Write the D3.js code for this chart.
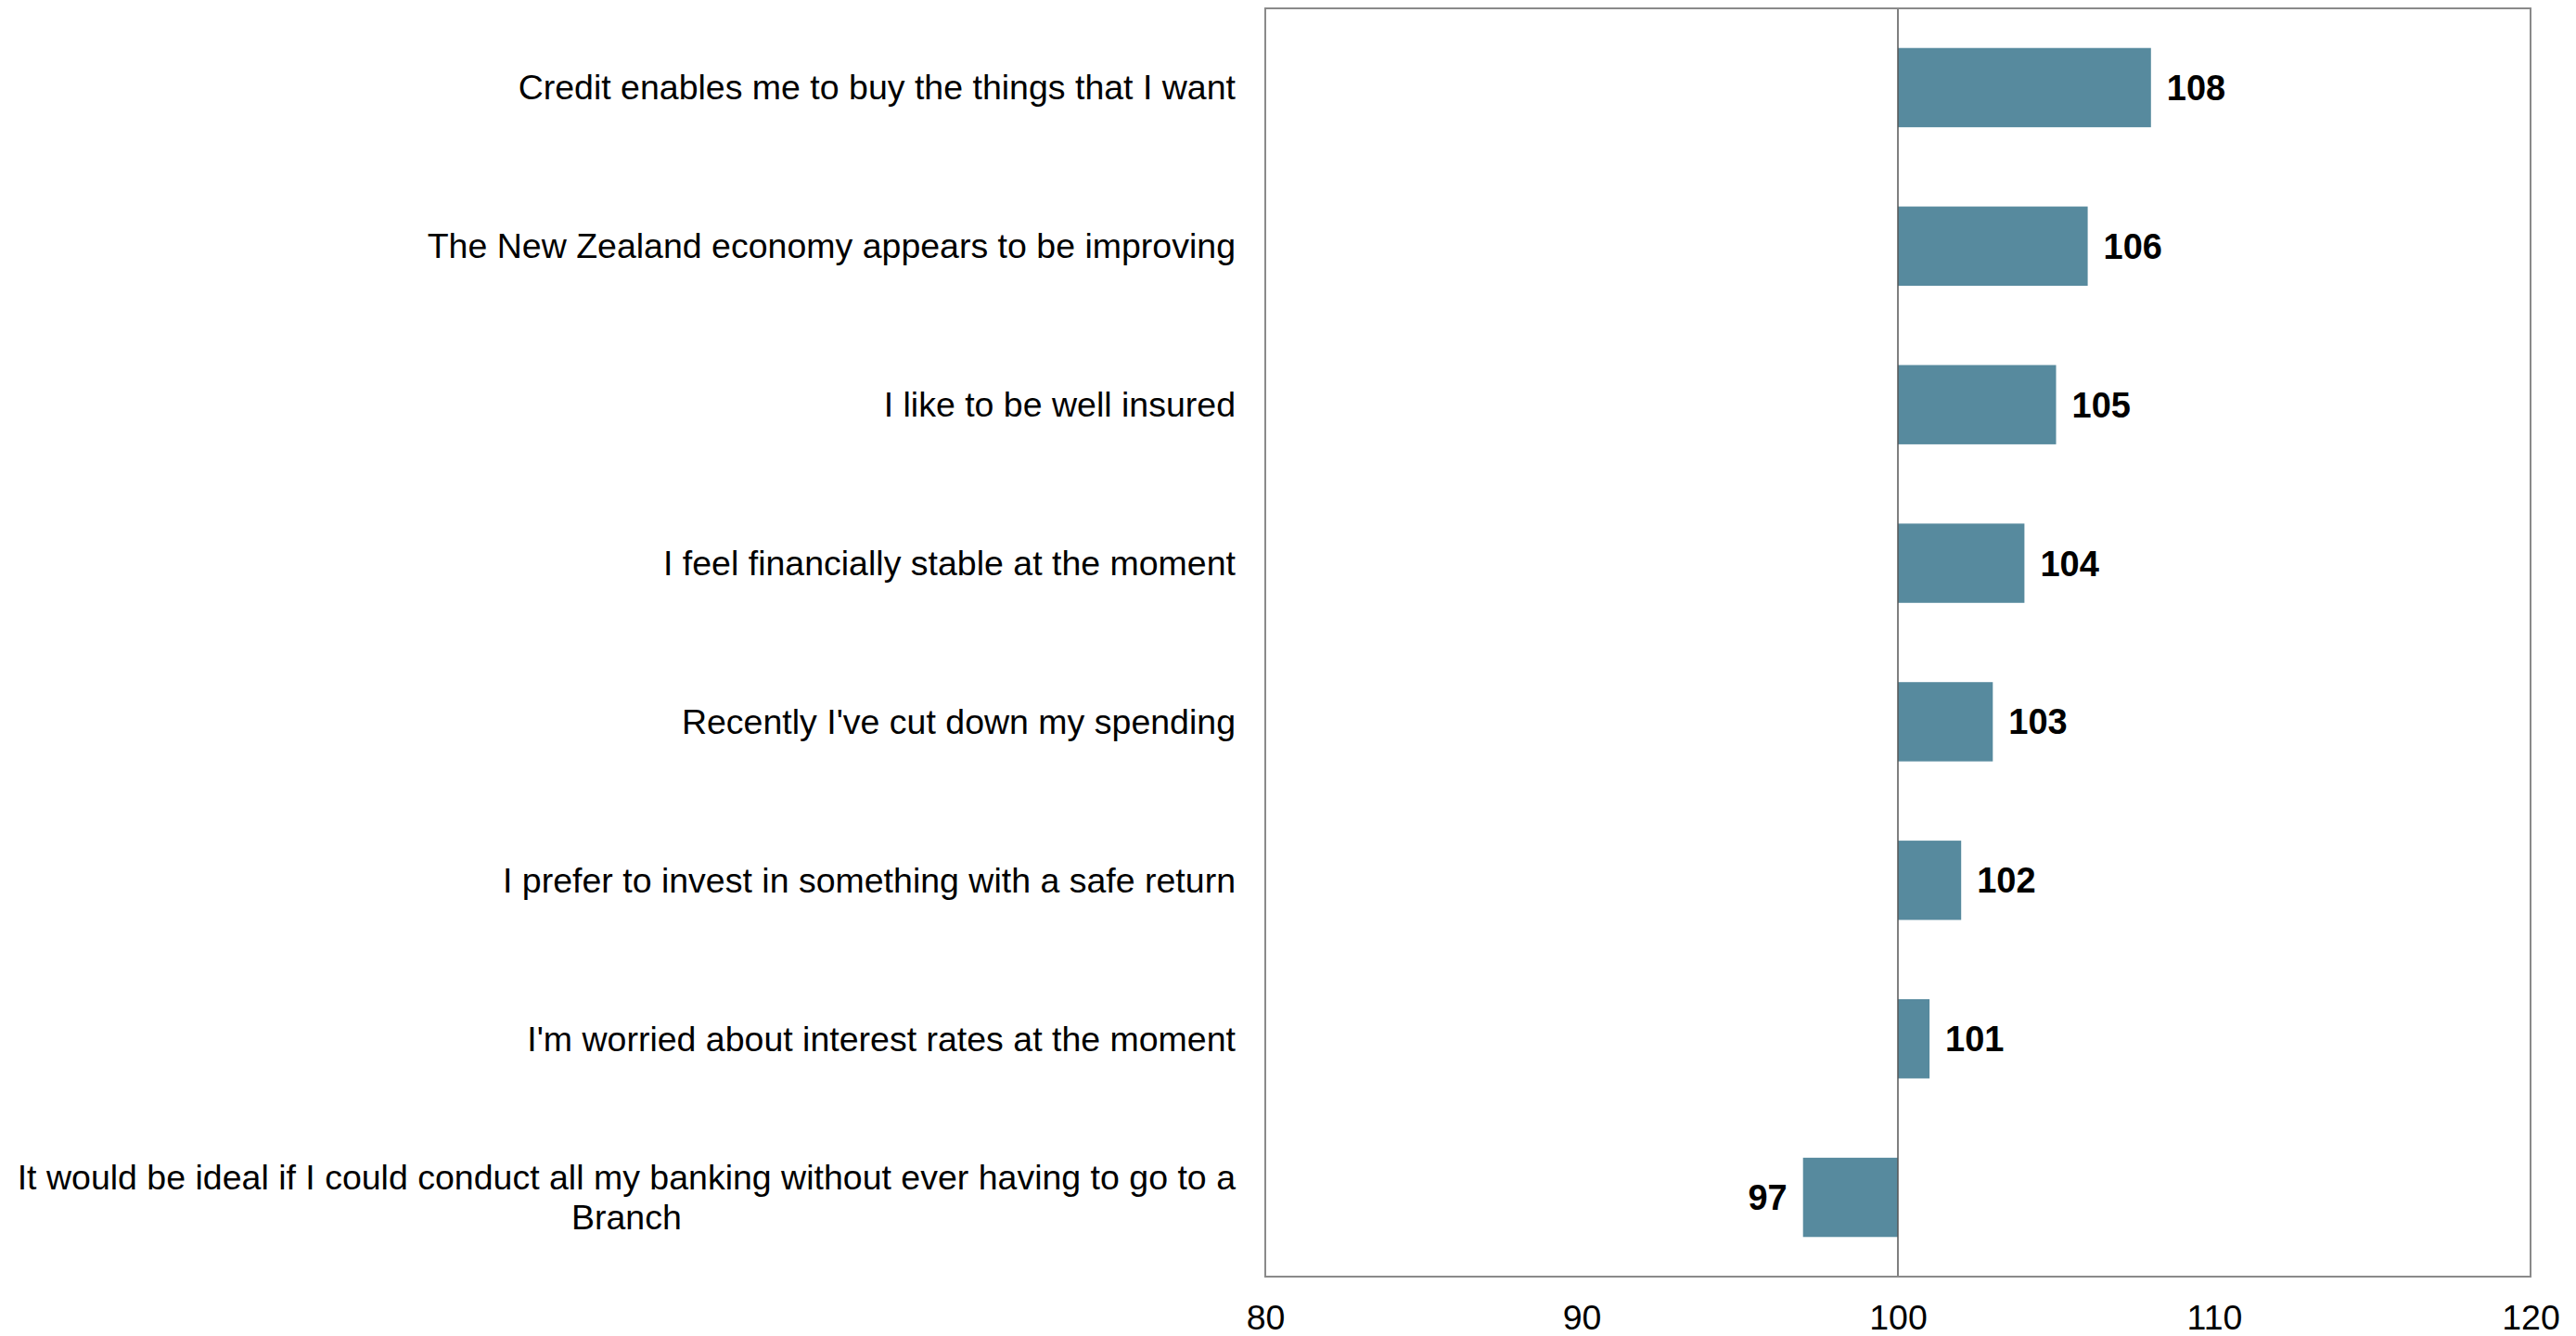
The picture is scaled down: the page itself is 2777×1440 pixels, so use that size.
<!DOCTYPE html>
<html>
<head>
<meta charset="utf-8">
<script src="https://cdn.jsdelivr.net/npm/d3@7"></script>
<style>
  html, body { margin: 0; padding: 0; background: #fff; }
  svg { display: block; font-family: "Liberation Sans", Arial, sans-serif; }
</style>
</head>
<body>
<svg id="chart" width="2777" height="1440"></svg>
<script>
// Statements, top to bottom
const categories = [
  "Credit enables me to buy the things that I want",
  "The New Zealand economy appears to be improving",
  "I like to be well insured",
  "I feel financially stable at the moment",
  "Recently I've cut down my spending",
  "I prefer to invest in something with a safe return",
  "I'm worried about interest rates at the moment",
  "It would be ideal if I could conduct all my banking without ever having to go to a Branch"
];
// Index score per statement (100 = average)
const values = [108, 106, 105, 104, 103, 102, 101, 97];
const baseline = 100;
const xTicks = [80, 90, 100, 110, 120];

const fontSize = 37.5;
const svg = d3.select("#chart");
const plot = { left: 1364, right: 2728, top: 9, bottom: 1376 };

const x = d3.scaleLinear().domain([80, 120]).range([plot.left, plot.right]);
const y = d3.scaleBand().domain(categories).range([plot.top, plot.bottom]).paddingInner(0.5).paddingOuter(0.25);

// Bars grow from the 100 baseline
svg.append("g").selectAll("rect")
  .data(values)
  .join("rect")
  .attr("x", d => x(Math.min(d, baseline)))
  .attr("y", (d, i) => y(categories[i]))
  .attr("width", d => Math.abs(x(d) - x(baseline)))
  .attr("height", y.bandwidth())
  .attr("fill", "#578a9e");

// Baseline at 100
svg.append("line")
  .attr("x1", x(baseline)).attr("x2", x(baseline))
  .attr("y1", plot.top).attr("y2", plot.bottom)
  .attr("stroke", "#555").attr("stroke-width", 1.5);

// Plot frame
svg.append("rect")
  .attr("x", plot.left).attr("y", plot.top)
  .attr("width", plot.right - plot.left).attr("height", plot.bottom - plot.top)
  .attr("fill", "none").attr("stroke", "#8a8a8a").attr("stroke-width", 2);

// Value labels
svg.append("g").selectAll("text")
  .data(values)
  .join("text")
  .attr("x", d => d >= baseline ? x(d) + 17 : x(d) - 17)
  .attr("y", (d, i) => y(categories[i]) + y.bandwidth() / 2 + 13.5)
  .attr("text-anchor", d => d >= baseline ? "start" : "end")
  .attr("font-size", fontSize + 0.5).attr("font-weight", "bold").attr("fill", "#000")
  .text(d => d);

// X axis tick labels
const xAxis = d3.axisBottom(x).tickValues(xTicks).tickSize(0).tickPadding(0);
const gx = svg.append("g").attr("transform", `translate(0,${plot.bottom})`).call(xAxis);
gx.select(".domain").remove();
gx.selectAll("text")
  .attr("dy", null).attr("y", 57)
  .attr("font-size", fontSize).attr("font-family", "Liberation Sans, Arial, sans-serif").attr("fill", "#000");

// Category labels, wrapped to fit left of the plot; wrapped lines centred on each other
const labelRight = plot.left - 32;
const maxWidth = 1320;
const lineHeight = 42.5;
const gLabels = svg.append("g").attr("font-size", fontSize).attr("fill", "#000");
categories.forEach((cat, i) => {
  const words = cat.split(" ");
  const probe = gLabels.append("text");
  const lines = [];
  let current = [];
  words.forEach(w => {
    const trial = current.concat(w).join(" ");
    probe.text(trial);
    if (probe.node().getComputedTextLength() > maxWidth && current.length) {
      lines.push(current.join(" "));
      current = [w];
    } else {
      current.push(w);
    }
  });
  lines.push(current.join(" "));
  let widest = 0;
  lines.forEach(l => { probe.text(l); widest = Math.max(widest, probe.node().getComputedTextLength()); });
  probe.remove();

  const cy = y(cat) + y.bandwidth() / 2;
  const firstBaseline = cy - (lines.length - 1) * lineHeight / 2 + 13;
  const t = gLabels.append("text")
    .attr("text-anchor", lines.length > 1 ? "middle" : "end");
  lines.forEach((l, k) => {
    t.append("tspan")
      .attr("x", lines.length > 1 ? labelRight - widest / 2 : labelRight)
      .attr("y", firstBaseline + k * lineHeight)
      .text(l);
  });
});
</script>
</body>
</html>
